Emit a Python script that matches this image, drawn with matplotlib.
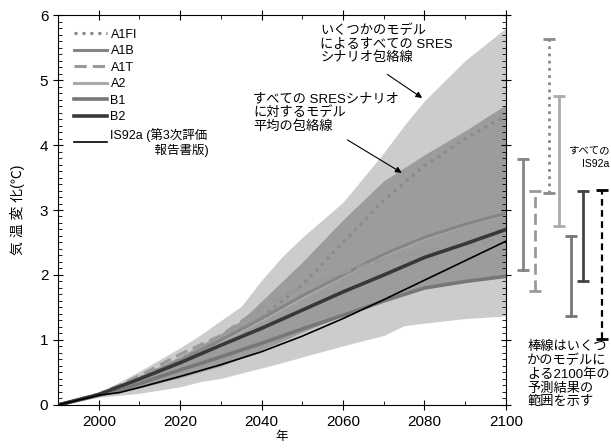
import numpy as np
import matplotlib
matplotlib.use("Agg")
import matplotlib.pyplot as plt

plt.rcParams['font.family'] = ['Liberation Sans', 'Noto Sans CJK JP']

# envelope data
env_years = [1990, 2000, 2005, 2010, 2020, 2025, 2030, 2035, 2040, 2045, 2050,
             2060, 2070, 2075, 2080, 2090, 2100]
all_lo = [0, 0.12, 0.15, 0.18, 0.28, 0.36, 0.41, 0.49, 0.57, 0.65, 0.74,
          0.91, 1.07, 1.22, 1.26, 1.33, 1.37]
all_hi = [0, 0.20, 0.35, 0.52, 0.88, 1.08, 1.30, 1.52, 1.92, 2.28, 2.58,
          3.12, 3.88, 4.30, 4.68, 5.30, 5.80]
mean_lo = [0, 0.14, 0.19, 0.26, 0.42, 0.51, 0.60, 0.72, 0.85, 0.98, 1.12,
           1.38, 1.60, 1.72, 1.80, 1.90, 1.98]
mean_hi = [0, 0.17, 0.30, 0.44, 0.75, 0.92, 1.10, 1.30, 1.60, 1.90, 2.20,
           2.85, 3.45, 3.65, 3.85, 4.22, 4.62]

# scenario curves
years = [1990, 2000, 2005, 2010, 2020, 2030, 2040, 2050, 2060, 2070, 2080, 2090, 2100]
a1fi = [0, 0.16, 0.28, 0.42, 0.70, 1.00, 1.35, 1.85, 2.50, 3.15, 3.68, 4.10, 4.45]
a1b = [0, 0.16, 0.28, 0.40, 0.68, 1.00, 1.33, 1.68, 2.00, 2.32, 2.58, 2.78, 2.95]
a1t = [0, 0.17, 0.30, 0.45, 0.78, 1.07, 1.50, 1.82, 2.03, 2.25, 2.36, 2.46, 2.55]
a2 = [0, 0.16, 0.27, 0.39, 0.66, 0.97, 1.30, 1.65, 1.98, 2.30, 2.56, 2.77, 2.94]
b1 = [0, 0.15, 0.23, 0.33, 0.54, 0.74, 0.95, 1.17, 1.38, 1.60, 1.80, 1.90, 1.98]
b2 = [0, 0.16, 0.28, 0.40, 0.65, 0.92, 1.18, 1.46, 1.74, 2.00, 2.27, 2.48, 2.70]
is92a = [0, 0.15, 0.19, 0.27, 0.44, 0.62, 0.82, 1.06, 1.33, 1.62, 1.92, 2.22, 2.52]

# 2100 ranges (bars on the right)
bar_names = ['A1B', 'A1T', 'A1FI', 'A2', 'B1', 'B2', 'IS92a']
bar_lo = [2.08, 1.76, 3.26, 2.75, 1.37, 1.90, 1.02]
bar_hi = [3.78, 3.30, 5.63, 4.75, 2.60, 3.30, 3.31]

fig = plt.figure(figsize=(6.11, 4.48), dpi=100)
ax = fig.add_axes([0.095, 0.096, 0.733, 0.8705])

ax.fill_between(env_years, all_lo, all_hi, color='#cccccc', lw=0)
ax.fill_between(env_years, mean_lo, mean_hi, color='#9c9c9c', lw=0)

styles = {
    'A1FI': dict(color='#8a8a8a', lw=2.2, ls=(0, (1, 1.6))),
    'A1B': dict(color='#858585', lw=2.2, ls='-'),
    'A1T': dict(color='#999999', lw=2.2, ls=(0, (4, 2))),
    'A2': dict(color='#ababab', lw=2.2, ls='-'),
    'B1': dict(color='#777777', lw=2.6, ls='-'),
    'B2': dict(color='#383838', lw=2.6, ls='-'),
    'IS92a': dict(color='black', lw=1.2, ls='-'),
}
series = [('A1FI', a1fi), ('A1B', a1b), ('A1T', a1t), ('A2', a2),
          ('B1', b1), ('B2', b2), ('IS92a', is92a)]
labels = {'IS92a': 'IS92a (第3次評価\n\u3000\u3000\u3000  報告書版)'}
draw_order = ['B1', 'A2', 'A1B', 'A1FI', 'A1T', 'B2', 'IS92a']
lines = {}
for name, vals in series:
    ln, = ax.plot(years, vals, **styles[name])
    ln.set_zorder(3 + draw_order.index(name) * 0.1)
    lines[name] = ln

ax.legend([lines[n] for n, _ in series],
          [labels.get(n, n) for n, _ in series],
          loc='upper left', bbox_to_anchor=(0.025, 0.978), frameon=False,
          fontsize=9, handlelength=2.6, handletextpad=0.3,
          labelspacing=0.36, borderaxespad=0)

# bars to the right of the axes
bar_x = [2104.2, 2107.2, 2110.6, 2113.1, 2116.0, 2119.0, 2123.6]
for name, x, lo, hi in zip(bar_names, bar_x, bar_lo, bar_hi):
    st = dict(styles[name])
    if name == 'IS92a':
        st['ls'] = (0, (3, 2))
        st['lw'] = 1.6
    if name == 'B2':
        st['color'] = '#444444'
    st['lw'] = min(st['lw'], 2.0)
    ax.plot([x, x], [lo, hi], clip_on=False, **st)
    ax.plot([x, x], [lo, hi], ls='none', marker='_', ms=8, mew=2,
            color=st['color'], clip_on=False)

ax.set_xlim(1990, 2100)
ax.set_ylim(0, 6)
ax.set_xticks(range(2000, 2101, 20))
ax.set_xticks(range(1990, 2101, 10), minor=True)
ax.set_yticks(range(0, 7))
ax.set_yticks(np.arange(0, 6.01, 0.1), minor=True)
ax.tick_params(which='major', direction='inout', length=7, width=0.8,
               labelsize=11, top=True, right=True)
ax.tick_params(which='minor', direction='in', length=3, width=0.6,
               top=True, right=True)
for s in ax.spines.values():
    s.set_linewidth(0.8)

ax.set_xlabel('年', fontsize=9, labelpad=2)
ax.set_ylabel('気 温 変 化(℃)', fontsize=10, labelpad=11)

# annotations
ax.text(2054.4, 5.86, 'いくつかのモデル\nによるすべての SRES\nシナリオ包絡線',
        fontsize=9.5, va='top', ha='left', linespacing=1.15)
ax.annotate('', xy=(2080.0, 4.70), xytext=(2070.3, 5.11),
            arrowprops=dict(arrowstyle='-|>', color='black', lw=0.8,
                            mutation_scale=9))
ax.text(2037.9, 4.80, 'すべての SRESシナリオ\nに対するモデル\n平均の包絡線',
        fontsize=9.5, va='top', ha='left', linespacing=1.15)
ax.annotate('', xy=(2075.0, 3.55), xytext=(2060.5, 4.10),
            arrowprops=dict(arrowstyle='-|>', color='black', lw=0.8,
                            mutation_scale=9))

fig.text(0.997, 1 - 145 / 448, 'すべての\nIS92a', fontsize=7.5, ha='right',
         va='top', linespacing=1.45)
ax.text(2105.2, 0.99,
        '棒線はいくつ\nかのモデルに\nよる2100年の\n予測結果の\n範囲を示す',
        fontsize=9.5, ha='left', va='top', linespacing=1.15)

fig.savefig('out.png', dpi=100)
